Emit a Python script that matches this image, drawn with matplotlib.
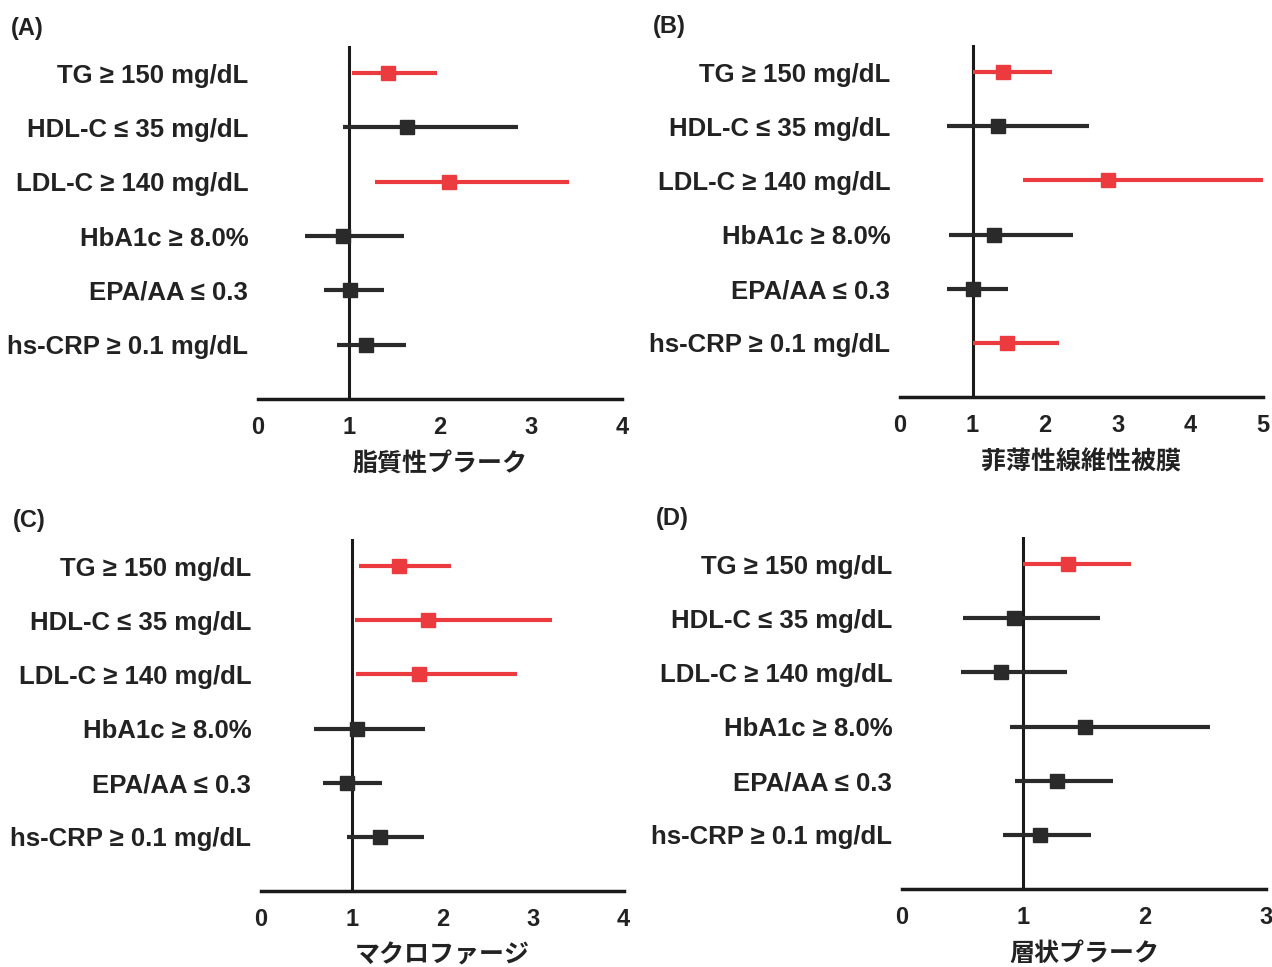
import matplotlib
matplotlib.use("Agg")
import matplotlib.pyplot as plt
import numpy as np

plt.rcParams['font.family'] = ['Liberation Sans', 'DejaVu Sans']
plt.rcParams['font.weight'] = 'bold'

labels = ["TG ≥ 150 mg/dL", "HDL-C ≤ 35 mg/dL", "LDL-C ≥ 140 mg/dL",
          "HbA1c ≥ 8.0%", "EPA/AA ≤ 0.3", "hs-CRP ≥ 0.1 mg/dL"]

# Panel A: 脂質性プラーク
a_or = [1.43, 1.64, 2.10, 0.93, 1.01, 1.19]
a_lo = [1.03, 0.93, 1.29, 0.52, 0.73, 0.87]
a_hi = [1.97, 2.86, 3.42, 1.60, 1.39, 1.63]
a_sig = [True, False, True, False, False, False]

# Panel B: 菲薄性線維性被膜
b_or = [1.42, 1.35, 2.86, 1.30, 1.00, 1.48]
b_lo = [1.00, 0.65, 1.69, 0.68, 0.65, 1.01]
b_hi = [2.10, 2.60, 5.00, 2.38, 1.49, 2.19]
b_sig = [True, False, True, False, False, True]

# Panel C: マクロファージ
c_or = [1.52, 1.84, 1.74, 1.06, 0.95, 1.31]
c_lo = [1.08, 1.04, 1.05, 0.59, 0.68, 0.95]
c_hi = [2.10, 3.21, 2.83, 1.81, 1.33, 1.80]
c_sig = [True, True, True, False, False, False]

# Panel D: 層状プラーク
d_or = [1.37, 0.92, 0.82, 1.51, 1.28, 1.14]
d_lo = [1.00, 0.50, 0.49, 0.89, 0.93, 0.83]
d_hi = [1.89, 1.63, 1.36, 2.54, 1.74, 1.56]
d_sig = [True, False, False, False, False, False]

panels = [
    ("(A)", "脂質性プラーク", a_or, a_lo, a_hi, a_sig, 4, [0.2028, 0.5874, 0.2862, 0.3650], (11, 29)),
    ("(B)", "菲薄性線維性被膜", b_or, b_lo, b_hi, b_sig, 5, [0.7075, 0.5894, 0.2854, 0.3641], (653, 27)),
    ("(C)", "マクロファージ", c_or, c_lo, c_hi, c_sig, 4, [0.2052, 0.0786, 0.2850, 0.3640], (13, 521)),
    ("(D)", "層状プラーク", d_or, d_lo, d_hi, d_sig, 3, [0.7091, 0.0807, 0.2862, 0.3640], (656, 518)),
]

RED = '#ec3b3f'
DARK = '#2a2a2a'
W, H = 1272, 967
fig = plt.figure(figsize=(W / 100, H / 100), dpi=100)

for letter, xlabel, orv, lo, hi, sig, xmax, rect, lpos in panels:
    ax = fig.add_axes(rect)
    ypos = np.arange(1, len(labels) + 1)
    ax.axvline(1, color='#1a1a1a', lw=2.2, zorder=2)
    for y, o, l, h, s in zip(ypos, orv, lo, hi, sig):
        col = RED if s else DARK
        ax.errorbar([o], [y], xerr=[[o - l], [h - o]], fmt='s', color=col,
                    ecolor=col, elinewidth=3.0, markersize=9.5, capsize=0,
                    zorder=3)
    ax.set_xlim(0, xmax)
    ax.set_ylim(7, 0.5)
    for sp in ['top', 'right', 'left']:
        ax.spines[sp].set_visible(False)
    ax.spines['bottom'].set_linewidth(2.5)
    ax.spines['bottom'].set_color('#1a1a1a')
    ax.set_xticks(range(0, xmax + 1))
    ax.set_yticks(ypos)
    ax.set_yticklabels(labels)
    ax.tick_params(axis='x', length=0, pad=12, labelsize=17, colors='#222222')
    ax.tick_params(axis='y', length=0, pad=7, labelsize=18.5, colors='#222222')
    for t in ax.get_xticklabels() + ax.get_yticklabels():
        t.set_fontweight('bold')
    ax.set_xlabel(xlabel, fontsize=18, fontweight='bold', color='#222222',
                  family=['Noto Sans CJK JP', 'DejaVu Sans'], labelpad=9.5)
    fig.text(lpos[0] / W, 1 - lpos[1] / H, letter, fontsize=17,
             fontweight='bold', ha='left', va='center', color='#222222')

fig.savefig("out.png", dpi=100)
